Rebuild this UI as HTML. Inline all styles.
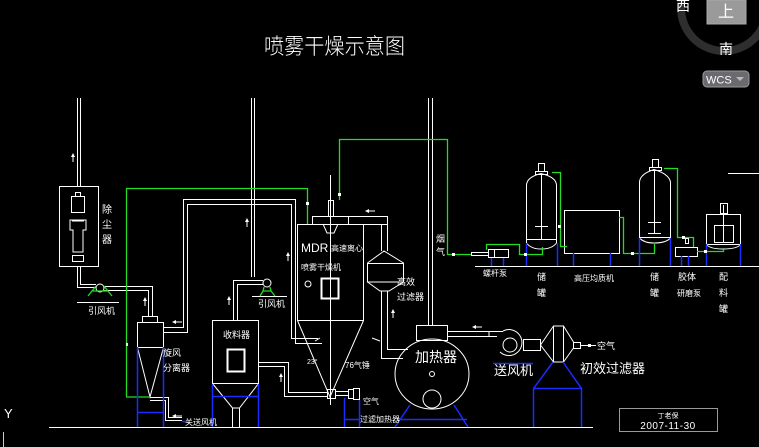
<!DOCTYPE html>
<html><head><meta charset="utf-8"><style>
html,body{margin:0;padding:0;background:#000;}
svg{display:block;}
text{font-family:"Liberation Sans","Noto Sans CJK SC",sans-serif;fill:#fff;}
</style></head><body>
<svg width="759" height="447" viewBox="0 0 759 447" xmlns="http://www.w3.org/2000/svg">
<rect width="759" height="447" fill="#000"/>
<!-- compass widget -->
<circle cx="724" cy="8" r="43" fill="none" stroke="#2e2e2e" stroke-width="8"/>
<rect x="707" y="0" width="39" height="24" fill="#9a9a9a" stroke="#aaa"/>
<text x="726" y="17" font-size="16" text-anchor="middle" fill="#555">上</text>
<text x="683" y="11" font-size="14" text-anchor="middle" fill="#aaa">西</text>
<text x="726" y="54" font-size="14" text-anchor="middle" fill="#aaa">南</text>
<rect x="703" y="71" width="46" height="16" rx="4" fill="#6a6a70" stroke="#999"/>
<text x="706" y="83.5" font-size="11" fill="#ccc">WCS</text>
<path d="M736 77 l8 0 l-4 4z" fill="#bbb"/>

<!-- title -->
<text x="264" y="54" font-size="22" textLength="141" lengthAdjust="spacingAndGlyphs" font-weight="300">喷雾干燥示意图</text>

<g fill="none" stroke="#fff" stroke-width="1">
<!-- ground lines -->
<line x1="49" y1="427.5" x2="593" y2="427.5"/>
<line x1="475" y1="266.5" x2="759" y2="266.5"/>
<line x1="728" y1="173.5" x2="759" y2="173.5"/>

<!-- dust collector -->
<rect x="59.5" y="186.5" width="39" height="80"/>
<path d="M77.5 98 V186 M80.5 98 V186"/>
<rect x="71.5" y="196.5" width="13" height="16"/><rect x="75.5" y="192.5" width="5" height="4"/>
<path d="M70 220 h16 v10 h-3 v22 h-10 v-22 h-3z"/><rect x="72.5" y="255.5" width="11" height="6"/><line x1="72" y1="221" x2="84" y2="221"/>
<path d="M77.5 267 V287.5 H96 M80.5 267 V284.5 H96"/>
<circle cx="100" cy="288" r="4"/>
<path d="M104 286.5 H152.5 V317 M104 290.5 H148.5 V317"/>
<line x1="77" y1="302.5" x2="119" y2="302.5"/>

<!-- cyclone -->
<rect x="142.5" y="316.5" width="15" height="6"/>
<rect x="137.5" y="322.5" width="26" height="25"/>
<path d="M137.5 347.5 L150 397 L163.5 347.5"/>
<path d="M163 327.5 H183.5 V199.5 H295.5 V343.5 H322 M163 332.5 H187.5 V204.5 H291.5 V338.5 H318"/>
<path d="M150 397.5 H168.5 V417.5 H182 M150 400.5 H165.5 V420.5 H182"/>

<!-- fan2 and collector -->
<path d="M251.5 98 V277 M254.5 98 V277"/>
<circle cx="267" cy="283" r="4"/>
<path d="M263 280.5 H233.5 V320 M263 284.5 H237.5 V320"/>
<line x1="252" y1="296.5" x2="287" y2="296.5"/>
<rect x="212.5" y="320.5" width="46" height="63"/>
<rect x="227.5" y="349.5" width="17" height="22" stroke-width="2"/>
<path d="M212.5 383.5 L232.5 408 H239.5 L258.5 383.5 M232.5 408 V427 M239.5 408 V427"/>
<path d="M258 362.5 H288.5 V392.5 H327 M258 366.5 H284.5 V396.5 H327"/>

<!-- dryer -->
<rect x="312.5" y="216.5" width="75" height="8"/>
<rect x="297.5" y="224.5" width="66" height="96"/>
<path d="M297.5 320.5 L330 397 L363.5 320.5"/>
<rect x="328.5" y="200.5" width="5" height="16"/>
<path d="M323 224 L327 233 H334 L338 224"/>
<line x1="330.5" y1="175" x2="330.5" y2="405"/>
<line x1="348.5" y1="216" x2="348.5" y2="224"/>
<rect x="321.5" y="278.5" width="17" height="20" stroke-width="2"/>
<circle cx="308" cy="284" r="3"/>
<path d="M315 341 L320 338 M380 341 L372 338"/>
<rect x="327.5" y="389.5" width="8" height="9"/>
<path d="M335 391.5 H348 M335 395.5 H348"/>
<rect x="348.5" y="389.5" width="5" height="9"/><rect x="353.5" y="388.5" width="6" height="11"/>

<!-- high efficiency filter -->
<path d="M387.5 224.5 V251 M381.5 224.5 V251" />
<path d="M367.5 263 L384 251 L403.5 263 V282 H367.5 Z M367.5 282 L380 291 H389 L403.5 282"/>
<line x1="367" y1="263.5" x2="403" y2="263.5"/>
<path d="M381.5 291 V358.5 H403 M387.5 291 V349.5 H408"/>

<!-- heater -->
<path d="M428.5 98 V325 M432.5 98 V325"/>
<rect x="416.5" y="325.5" width="31" height="15"/>
<ellipse cx="432" cy="374" rx="37" ry="35"/>
<circle cx="432" cy="374" r="2.5"/>
<circle cx="432" cy="399" r="9"/>
<path d="M447 331.5 H489 V337 M447 336.5 H497"/>
<line x1="489" y1="331.5" x2="503" y2="331.5"/>
<path d="M503 331 A13 13 0 1 1 500 352"/>
<circle cx="510" cy="345" r="7"/>
<rect x="523.5" y="339.5" width="17" height="11"/>
<path d="M540.5 345 L553.5 326 H563.5 L573.5 342 V348 L563.5 362 H553.5 Z M553.5 326 V362 M563.5 326 V362"/>
<rect x="573.5" y="342.5" width="7" height="6"/>
<line x1="580" y1="345.5" x2="596" y2="345.5"/>

<!-- right tanks -->
<path d="M526.5 243 V185 Q527 177 541 173.5 Q556 177 556.5 185 V243 M526.5 243 Q531 249 541 249 Q552 249 556.5 243 M526 239.5 H557"/>
<rect x="535.5" y="171.5" width="12" height="3"/><rect x="538.5" y="163.5" width="6" height="8"/>
<path d="M541.5 174 V240 M535 226.5 H548 M535 239.5 H548"/>
<rect x="488.5" y="249.5" width="20" height="8"/><line x1="494.5" y1="249" x2="494.5" y2="258"/>
<rect x="471.5" y="252.5" width="17" height="3"/>
<rect x="564.5" y="210.5" width="55" height="43"/>
<path d="M639.5 238 V182 Q640 174 654 169.5 Q669 174 670.5 182 V238 M639.5 238 Q644 243 654 243 Q666 243 670.5 238 M639 237.5 H671"/>
<rect x="649.5" y="167.5" width="12" height="3"/><rect x="652.5" y="159.5" width="6" height="8"/>
<path d="M654.5 170 V233 M648 222.5 H661 M648 233.5 H661"/>
<rect x="675.5" y="247.5" width="22" height="9"/><rect x="685.5" y="238.5" width="3" height="5"/>
<rect x="706.5" y="214.5" width="34" height="30"/>
<rect x="714.5" y="225.5" width="19" height="17"/>
<line x1="723.5" y1="205" x2="723.5" y2="242"/>
<rect x="720.5" y="203.5" width="7" height="10"/>
<path d="M706.5 244.5 Q710 249 723 249 Q737 249 740.5 244.5"/>
</g>

<!-- title block -->
<rect x="619.5" y="408.5" width="98" height="23" fill="none" stroke="#999"/>
<text x="668" y="418" font-size="7" text-anchor="middle">丁老保</text>
<text x="668" y="429" font-size="10" text-anchor="middle" letter-spacing="0.5">2007-11-30</text>

<!-- green lines -->
<g fill="none" stroke="#22dd22" stroke-width="1.3">
<path d="M126.5 397 V188.5 H307.5 V224"/>
<line x1="126" y1="397" x2="150" y2="397"/>
<path d="M339.5 200 V139.5 H447.5 V254.5 H471"/>
<path d="M486.5 250 V244.5 H519.5 V254.5 H542.5 V247"/>
<path d="M552 172.5 H560.5 V246.5 H567"/>
<path d="M619 217.5 H623.5 V253.5 H654.5 V244"/>
<path d="M664 168.5 H677.5 V237.5 H693.5 V247"/>
<path d="M697 251.5 H723.5 V248"/>
<path d="M88 296 L92 291 H108 L112 296 M92 291 L96 286 M108 291 L104 286"/>
<path d="M260 296 L263 291 H271 L275 296 M263 291 L264 287 M271 291 L270 287"/>
</g>

<!-- blue -->
<g fill="none" stroke="#1a2cff" stroke-width="1.5">
<path d="M137.5 347 V427 M163.5 347 V427 M137 412.5 H163"/>
<path d="M212.5 384 V427 M258.5 384 V427 M212 396.5 H258"/>
<path d="M344.5 398 V427 M359.5 400 V427 M344 419.5 H360"/>
<path d="M410 405 L395 427 M454 405 L468 427 M397 419.5 H467"/>
<path d="M493 363.5 H533"/>
<path d="M553 362 L533.5 388.5 V427 M563 362 L581.5 388.5 V427 M533 388.5 H581"/>
<path d="M491.5 258 V266 M503.5 258 V266 M526.5 243 V266 M557.5 243 V266 M573.5 253 V266 M610.5 253 V266 M639.5 238 V266 M670.5 238 V266 M681.5 256 V266 M688.5 256 V266 M706.5 244 V266 M740.5 244 V266"/>
<path d="M182 421.5 H188"/>
</g>

<!-- arrows -->
<g fill="#fff">
<path d="M73 153 l-2 4 h4z"/><rect x="72.5" y="156" width="1" height="6"/>
<path d="M145 297 l-2 4 h4z"/><rect x="144.5" y="300" width="1" height="6"/>
<path d="M247 218 l-2 4 h4z"/><rect x="246.5" y="221" width="1" height="6"/>
<path d="M288 252 l-2 4 h4z"/><rect x="287.5" y="255" width="1" height="6"/>
<path d="M229 296 l-2 4 h4z"/><rect x="228.5" y="299" width="1" height="6"/>
<path d="M281 373 l-2 4 h4z"/><rect x="280.5" y="376" width="1" height="6"/>
<path d="M393 309 l-2 4 h4z"/><rect x="392.5" y="312" width="1" height="6"/>
<path d="M172 322 l4 -2 v4z"/><rect x="175" y="321.5" width="7" height="1"/>
<path d="M365 211 l4 -2 v4z"/><rect x="368" y="210.5" width="7" height="1"/>
<path d="M472 327 l4 -2 v4z"/><rect x="475" y="326.5" width="7" height="1"/>
<path d="M172 416 l4 -2 v4z"/><rect x="175" y="415.5" width="7" height="1"/>
<rect x="306" y="202" width="3" height="3"/><rect x="338" y="193" width="3" height="3"/>
<rect x="126" y="343" width="2" height="3"/>
<rect x="452" y="253" width="3" height="3"/><rect x="524" y="253" width="3" height="3"/>
<rect x="558" y="225" width="3" height="3"/><rect x="631" y="252" width="3" height="3"/>
<rect x="682" y="236" width="3" height="3"/><rect x="704" y="250" width="3" height="3"/>
<rect x="588" y="344" width="3" height="3"/>
</g>

<!-- labels -->
<g font-size="10">
<text x="102" y="213">除</text><text x="102" y="228">尘</text><text x="102" y="243">器</text>
<text x="88" y="314" font-size="9">引风机</text>
<text x="258" y="307" font-size="9">引风机</text>
<text x="163" y="356" font-size="9">旋风</text><text x="163" y="371" font-size="9">分离器</text>
<text x="223" y="338" font-size="9">收料器</text>
<text x="185" y="425" font-size="8">关送风机</text>
<text x="301" y="252" font-size="12" fill="#ddd">MDR</text>
<text x="331" y="251" font-size="8">高速离心</text>
<text x="301" y="270" font-size="8">喷雾干燥机</text>
<text x="307" y="364" font-size="7">23°</text>
<text x="345" y="368" font-size="8">76气锤</text>
<text x="363" y="404" font-size="8">空气</text>
<text x="360" y="422" font-size="8">过滤加热器</text>
<text x="397" y="285" font-size="9">高效</text><text x="397" y="300" font-size="9">过滤器</text>
<text x="436" y="242" font-size="9">烟</text><text x="436" y="255" font-size="9">气</text>
<text x="415" y="362" font-size="14">加热器</text>
<text x="494" y="375" font-size="13">送风机</text>
<text x="580" y="373" font-size="13">初效过滤器</text>
<text x="597" y="349" font-size="9">空气</text>
<text x="483" y="276" font-size="8">螺杆泵</text>
<text x="537" y="280" font-size="9">储</text><text x="537" y="296" font-size="9">罐</text>
<text x="574" y="281" font-size="8">高压均质机</text>
<text x="650" y="280" font-size="9">储</text><text x="650" y="296" font-size="9">罐</text>
<text x="678" y="280" font-size="9">胶体</text><text x="677" y="296" font-size="8">研磨泵</text>
<text x="719" y="280" font-size="9">配</text><text x="719" y="296" font-size="9">料</text><text x="719" y="312" font-size="9">罐</text>
</g>
<!-- UCS icon -->
<text x="4" y="418" font-size="13" fill="#ccc">Y</text>
<line x1="3.5" y1="432" x2="3.5" y2="447" stroke="#ccc"/>
</svg>
</body></html>
